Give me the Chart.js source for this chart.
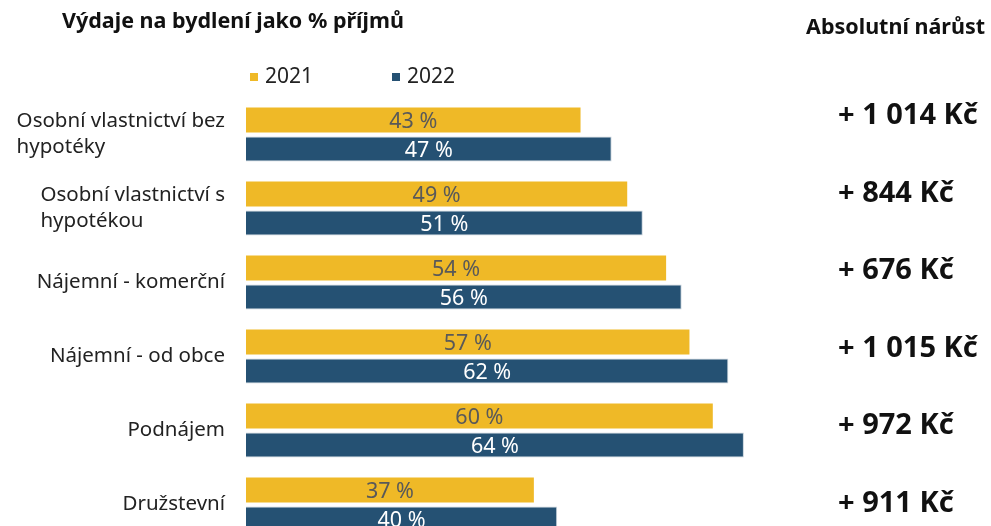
<!DOCTYPE html>
<html>
<head>
<meta charset="utf-8">
<script src="https://cdn.jsdelivr.net/npm/chart.js@4/dist/chart.umd.min.js"></script>
<style>
  html, body { margin: 0; padding: 0; background: #fff; overflow: hidden; }
  #wrap { width: 991px; height: 560px; }
</style>
</head>
<body>
<div id="wrap"><canvas id="housingChart" width="991" height="560"></canvas></div>
<script>
// data
const categories = [
  ['Osobní vlastnictví bez', 'hypotéky'],
  ['Osobní vlastnictví s', 'hypotékou'],
  'Nájemní - komerční',
  'Nájemní - od obce',
  'Podnájem',
  'Družstevní'
];
const values2021 = [43, 49, 54, 57, 60, 37];
const values2022 = [47, 51, 56, 62, 64, 40];
const growthLabels = ['+ 1 014 Kč', '+ 844 Kč', '+ 676 Kč', '+ 1 015 Kč', '+ 972 Kč', '+ 911 Kč'];
const seriesNames = ['2021', '2022'];

const YELLOW = '#EFB927';
const BLUE = '#255173';
const FONT = '"Noto Sans", "Open Sans", sans-serif';

// draws category labels, bar values, title, legend and the right column
const textPlugin = {
  id: 'textPlugin',
  afterDatasetsDraw(chart) {
    const ctx = chart.ctx;
    const yScale = chart.scales.y;
    ctx.save();

    // category labels: block right aligned, lines left aligned
    ctx.font = '20.5px ' + FONT;
    ctx.fillStyle = '#222';
    ctx.textBaseline = 'middle';
    ctx.textAlign = 'left';
    categories.forEach((cat, i) => {
      const lines = Array.isArray(cat) ? cat : [cat];
      const maxW = Math.max(...lines.map(l => ctx.measureText(l).width));
      const cy = yScale.getPixelForValue(i);
      const lh = 26;
      lines.forEach((l, j) => {
        const y = cy - (lines.length - 1) * lh / 2 + j * lh;
        ctx.fillText(l, 225 - maxW, y);
      });
    });

    // values inside bars
    ctx.font = '21.5px ' + FONT;
    ctx.textAlign = 'center';
    chart.data.datasets.forEach((ds, di) => {
      const meta = chart.getDatasetMeta(di);
      meta.data.forEach((bar, i) => {
        ctx.fillStyle = di === 0 ? '#595959' : '#ffffff';
        ctx.fillText(ds.data[i] + ' %', (bar.x + bar.base) / 2, bar.y + 2);
      });
    });

    // title
    ctx.fillStyle = '#111';
    ctx.font = 'bold 21.5px ' + FONT;
    ctx.textAlign = 'left';
    ctx.fillText('Výdaje na bydlení jako % příjmů', 62, 22);
    ctx.textAlign = 'right';
    ctx.fillText('Absolutní nárůst', 985, 28);

    // legend
    ctx.font = '21px ' + FONT;
    ctx.textAlign = 'left';
    const legendX = [250, 392];
    chart.data.datasets.forEach((ds, di) => {
      ctx.fillStyle = ds.backgroundColor;
      ctx.fillRect(legendX[di], 73, 8, 8);
      ctx.fillStyle = '#222';
      ctx.fillText(ds.label, legendX[di] + 15, 77);
    });

    // right column
    ctx.font = 'bold 29px ' + FONT;
    ctx.fillStyle = '#111';
    growthLabels.forEach((g, i) => {
      ctx.fillText(g, 838, yScale.getPixelForValue(i) - 18.5 + i * 3.5);
    });

    ctx.restore();
  }
};

new Chart(document.getElementById('housingChart'), {
  type: 'bar',
  data: {
    labels: categories,
    datasets: [
      {
        label: seriesNames[0],
        data: values2021,
        backgroundColor: YELLOW,
        categoryPercentage: 0.78,
        barPercentage: 0.87
      },
      {
        label: seriesNames[1],
        data: values2022,
        backgroundColor: BLUE,
        borderColor: '#c9d3dc',
        borderWidth: 1,
        categoryPercentage: 0.78,
        barPercentage: 0.87
      }
    ]
  },
  options: {
    indexAxis: 'y',
    responsive: false,
    animation: false,
    layout: { padding: { left: 246, right: 122.6, top: 97.5, bottom: 18.5 } },
    scales: {
      x: { min: 0, max: 80, display: false },
      y: { display: false }
    },
    plugins: {
      legend: { display: false },
      tooltip: { enabled: false }
    }
  },
  plugins: [textPlugin]
});
</script>
</body>
</html>
